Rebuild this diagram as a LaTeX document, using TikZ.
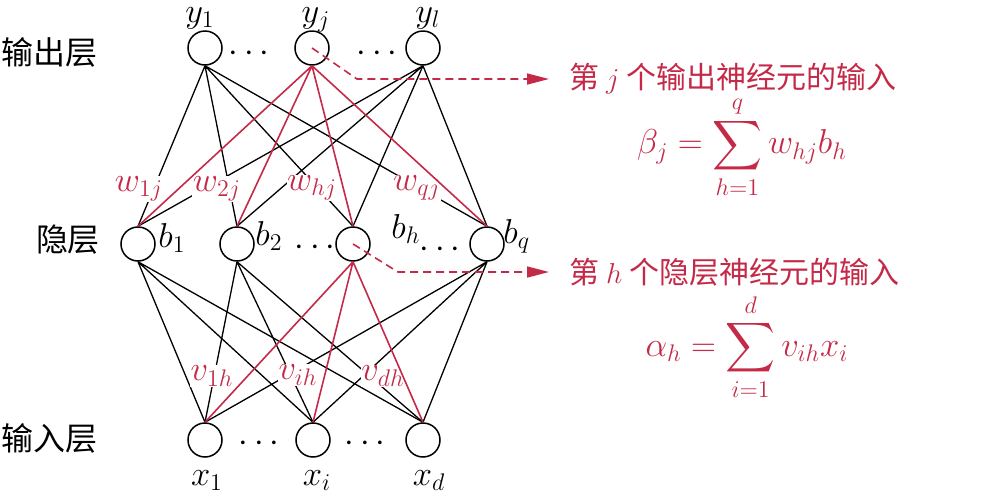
\documentclass[tikz,border=0pt]{standalone}
\usepackage{amsmath}
\usepackage{fontspec}
\newfontfamily\cjk{Noto Sans CJK SC}
\usepackage{tikz}
\usetikzlibrary{arrows.meta, positioning}
\definecolor{nnred}{RGB}{196,42,72}

\begin{document}
\begin{tikzpicture}[x=0.5pt, y=-0.5pt,
    neuron/.style={draw, circle, line width=0.75pt, minimum size=17pt, inner sep=0pt},
    lyr/.style={font=\cjk\fontsize{16}{16}\selectfont},
    lbl/.style={font=\fontsize{17.28}{17.28}\selectfont, inner sep=0.5pt},
    wlbl/.style={lbl, text=nnred, fill=white, inner sep=0.3pt},
    edge/.style={line width=0.65pt},
    redge/.style={line width=0.8pt, nnred},
    darr/.style={-{Triangle[length=11pt, width=5.5pt]}, line width=0.8pt,
                 nnred, dash pattern=on 4pt off 2.5pt},
    note/.style={font=\cjk\fontsize{15}{15}\selectfont, text=nnred, inner sep=0pt},
    eqn/.style={font=\fontsize{17.28}{17.28}\selectfont, text=nnred},
  ]
    \useasboundingbox (0,0) rectangle (993,499);

    % === neurons ===
    % output layer
    \node[neuron] (y1) at (205, 48) {};
    \node[neuron] (yj) at (312, 48) {};
    \node[neuron] (yl) at (423, 48) {};
    % hidden layer
    \node[neuron] (b1) at (138, 244) {};
    \node[neuron] (b2) at (237, 244) {};
    \node[neuron] (bh) at (353, 244) {};
    \node[neuron] (bq) at (487, 244) {};
    % input layer
    \node[neuron] (x1) at (205, 440) {};
    \node[neuron] (xi) at (313, 440) {};
    \node[neuron] (xd) at (423, 440) {};

    % layer names
    \node[lyr] (lout) at (50, 52) {输出层};
    \node[lyr] (lhid) at (68, 240) {隐层};
    \node[lyr] (lin) at (50, 438) {输入层};

    % neuron labels
    \node[lbl, anchor=base] at (200, 22) {$y_1$};
    \node[lbl, anchor=base] at (316, 22) {$y_j$};
    \node[lbl, anchor=base] at (428, 22) {$y_l$};
    \node[lbl, anchor=west] at (157, 238) {$b_1$};
    \node[lbl, anchor=west] at (254, 236) {$b_2$};
    \node[lbl, anchor=west] at (390, 229) {$b_h$};
    \node[lbl, anchor=west] at (502, 236) {$b_q$};
    \node[lbl, anchor=base] at (207, 485) {$x_1$};
    \node[lbl, anchor=base] at (317, 485) {$x_i$};
    \node[lbl, anchor=base] at (429, 485) {$x_d$};
    \node[lbl] (d1) at (252, 54) {$\cdots$};
    \node[lbl] (d2) at (380, 54) {$\cdots$};
    \node[lbl] (d3) at (318, 248) {$\cdots$};
    \node[lbl] (d4) at (443, 250) {$\cdots$};
    \node[lbl] (d5) at (262, 444) {$\cdots$};
    \node[lbl] (d6) at (368, 444) {$\cdots$};

    % === black connections ===
    \draw[edge] (y1.south) -- (b1.north) (y1.south) -- (b2.north)
                (y1.south) -- (bh.north) (y1.south) -- (bq.north);
    \draw[edge] (yl.south) -- (b1.north) (yl.south) -- (b2.north)
                (yl.south) -- (bh.north) (yl.south) -- (bq.north);
    \draw[edge] (b1.south) -- (x1.north) (b1.south) -- (xi.north) (b1.south) -- (xd.north);
    \draw[edge] (b2.south) -- (x1.north) (b2.south) -- (xi.north) (b2.south) -- (xd.north);
    \draw[edge] (bq.south) -- (x1.north) (bq.south) -- (xi.north) (bq.south) -- (xd.north);

    % weights
    \node[wlbl] (w1) at (139, 189) {$w_{1j}$};
    \node[wlbl] (w2) at (217, 189) {$w_{2j}$};
    \node[wlbl] (wh) at (312, 188) {$w_{hj}$};
    \node[wlbl] (wq) at (417, 188) {$w_{qj}$};
    \node[wlbl] (v1) at (212, 376) {$v_{1h}$};
    \node[wlbl] (vi) at (298, 375) {$v_{ih}$};
    \node[wlbl] (vd) at (383, 376) {$v_{dh}$};

    % === red connections ===
    \draw[redge] (yj.south) -- (b1.north) (yj.south) -- (b2.north)
                 (yj.south) -- (bh.north) (yj.south) -- (bq.north);
    \draw[redge] (bh.south) -- (x1.north) (bh.south) -- (xi.north) (bh.south) -- (xd.north);

    % === notes ===
    \coordinate (c1) at (357, 79);
    \coordinate (tip1) at (549, 79);
    \coordinate (c2) at (398, 272);
    \coordinate (tip2) at (549, 272);
    \node[note, right=10pt of tip1] (note1) {第 $j$ 个输出神经元的输入};
    \node[note, right=10pt of tip2] (note2) {第 $h$ 个隐层神经元的输入};
    \draw[darr] (yj.center) -- (c1) -- (tip1);
    \draw[darr] (bh.center) -- (c2) -- (tip2);

    \node[eqn] (beta) at (742, 147) {$\displaystyle \beta_j = \sum_{h=1}^{q} w_{hj} b_h$};
    \node[eqn] (alpha) at (747, 347) {$\displaystyle \alpha_h = \sum_{i=1}^{d} v_{ih} x_i$};
  \end{tikzpicture}
\end{document}
